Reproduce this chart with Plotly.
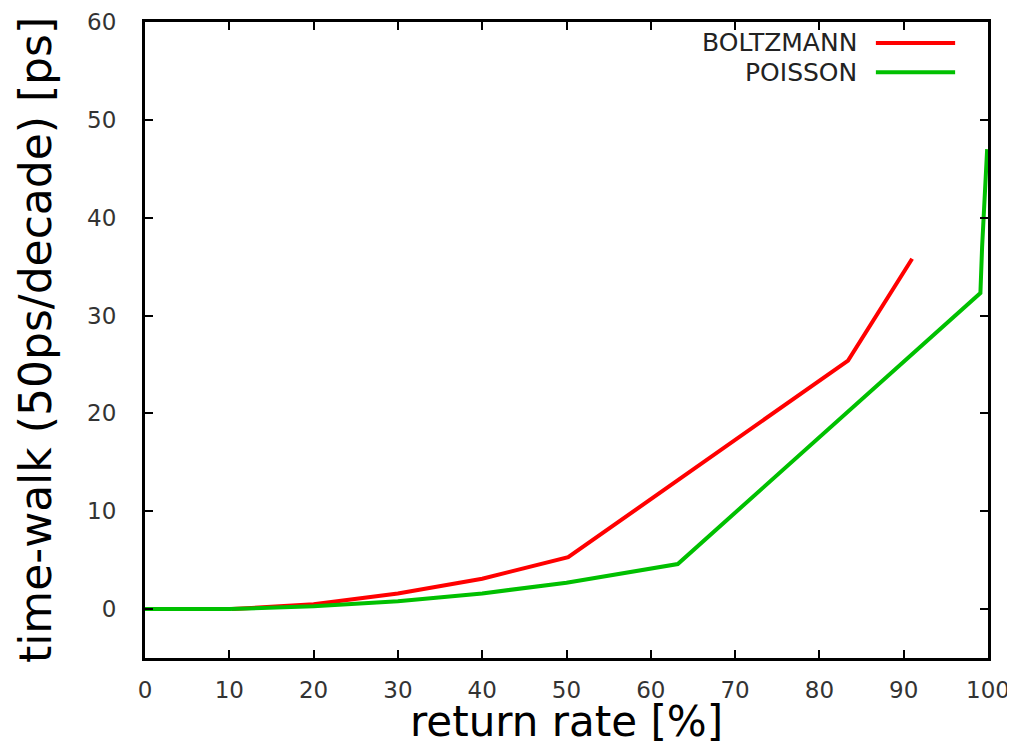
import plotly.graph_objects as go

# Data
boltz_x = [10.3, 20, 30, 40, 50.2, 83.4, 91.0]
boltz_y = [0.0, 0.5, 1.6, 3.1, 5.3, 25.4, 35.8]

poisson_x = [0, 10, 20, 30, 40, 50, 63.2, 99.1, 99.3, 99.6, 99.9]
poisson_y = [0.0, 0.0, 0.3, 0.8, 1.6, 2.7, 4.6, 32.3, 37.0, 42.0, 47.0]

series_names = ["BOLTZMANN", "POISSON"]
series_colors = ["#ff0000", "#00c000"]

x_ticks = [0, 10, 20, 30, 40, 50, 60, 70, 80, 90, 100]
y_ticks = [0, 10, 20, 30, 40, 50, 60]

x_title = "return rate [%]"
y_title = "time-walk (50ps/decade) [ps]"

fig = go.Figure()
for xs, ys, name, col in [(boltz_x, boltz_y, series_names[0], series_colors[0]),
                          (poisson_x, poisson_y, series_names[1], series_colors[1])]:
    fig.add_trace(go.Scatter(x=xs, y=ys, mode="lines", name=name,
                             line=dict(color=col, width=4), showlegend=False))

# Manual legend (text left of line sample, like gnuplot)
leg_y = [0.967, 0.921]
for name, col, yy in zip(series_names, series_colors, leg_y):
    fig.add_annotation(xref="paper", yref="paper", x=0.847, y=yy, text=name,
                       showarrow=False, xanchor="right", yanchor="middle",
                       font=dict(family="DejaVu Sans", size=25, color="#222"))
    fig.add_shape(type="line", xref="paper", yref="paper", x0=0.867, x1=0.961,
                  y0=yy, y1=yy, line=dict(color=col, width=4))

# X axis title as annotation for precise placement
fig.add_annotation(xref="paper", yref="paper", x=0.5, y=-0.1, text=x_title,
                   showarrow=False, xanchor="center", yanchor="middle",
                   font=dict(family="DejaVu Sans", size=42, color="black"))

axis_common = dict(showline=True, linecolor="black", linewidth=3, mirror="ticks",
                   ticks="inside", ticklen=8, tickwidth=2, tickcolor="black",
                   showgrid=False, zeroline=False, automargin=False,
                   tickfont=dict(family="DejaVu Sans", size=23, color="#333"))

fig.update_xaxes(range=[0, 100], tickvals=x_ticks, ticklabelstandoff=9,
                 **axis_common)
fig.update_yaxes(range=[-5, 60], tickvals=y_ticks, ticklabelstandoff=21,
                 title=dict(text=y_title, standoff=22,
                            font=dict(family="DejaVu Sans", size=44, color="black")),
                 **axis_common)

fig.update_layout(width=1015, height=745, plot_bgcolor="white", paper_bgcolor="white",
                  margin=dict(l=137, r=35, t=14, b=95), showlegend=False)

fig.write_html("out.html")
